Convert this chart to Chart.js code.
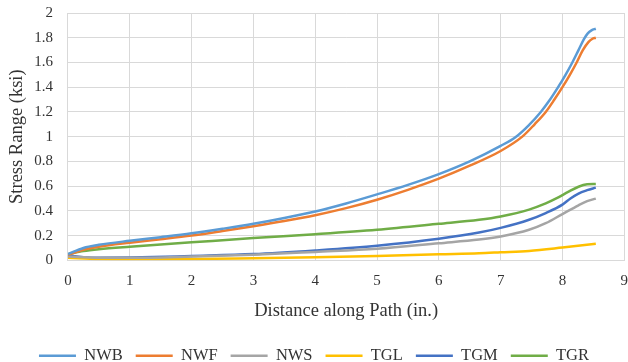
<!DOCTYPE html>
<html>
<head>
<meta charset="utf-8">
<script src="https://cdn.jsdelivr.net/npm/chart.js@4/dist/chart.umd.min.js"></script>
<style>
  html, body { margin: 0; padding: 0; background: #fff; overflow: hidden; }
  #wrap { position: relative; width: 628px; height: 362px; }
</style>
</head>
<body>
<div id="wrap"><canvas id="stressChart"></canvas></div>
<script>
// distance along path (in.) and stress range (ksi)
const xNWB = [0, 0.25, 0.5, 1, 1.5, 2, 2.5, 3, 3.5, 4, 4.5, 5, 5.5, 6, 6.5, 7, 7.25, 7.45, 7.65, 7.8, 7.93, 8.05, 8.16, 8.26, 8.35, 8.41, 8.47, 8.54];
const NWB  = [0.05, 0.10, 0.125, 0.158, 0.187, 0.218, 0.255, 0.295, 0.342, 0.395, 0.46, 0.533, 0.61, 0.697, 0.80, 0.925, 1.0, 1.09, 1.2, 1.3, 1.4, 1.5, 1.6, 1.7, 1.79, 1.835, 1.86, 1.873];

const xNWF = [0, 0.25, 0.5, 1, 1.5, 2, 2.5, 3, 3.5, 4, 4.5, 5, 5.5, 6, 6.5, 7, 7.35, 7.55, 7.73, 7.87, 8.0, 8.12, 8.23, 8.33, 8.42, 8.48, 8.54];
const NWF  = [0.045, 0.085, 0.11, 0.142, 0.17, 0.20, 0.237, 0.276, 0.318, 0.365, 0.422, 0.49, 0.57, 0.66, 0.765, 0.884, 1.0, 1.1, 1.2, 1.3, 1.4, 1.5, 1.6, 1.7, 1.765, 1.79, 1.80];

const xNWS = [0, 0.5, 1, 2, 3, 4, 5, 6, 6.65, 7, 7.46, 7.73, 8, 8.26, 8.4, 8.54];
const NWS  = [0.03, 0.02, 0.02, 0.03, 0.045, 0.068, 0.093, 0.138, 0.168, 0.193, 0.247, 0.30, 0.374, 0.445, 0.478, 0.499];

const xTGL = [0, 0.5, 1, 2, 3, 4, 5, 6, 6.65, 7, 7.46, 8, 8.54];
const TGL  = [0.02, 0.01, 0.008, 0.01, 0.017, 0.025, 0.035, 0.049, 0.057, 0.065, 0.076, 0.103, 0.133];

const xTGM = [0, 0.25, 0.5, 1, 2, 3, 4, 5, 6, 6.65, 7, 7.46, 7.73, 8, 8.13, 8.26, 8.4, 8.54];
const TGM  = [0.04, 0.025, 0.02, 0.022, 0.035, 0.05, 0.08, 0.118, 0.174, 0.224, 0.262, 0.328, 0.382, 0.45, 0.50, 0.54, 0.567, 0.588];

const xTGR = [0, 0.25, 0.5, 1, 2, 3, 4, 5, 6, 6.65, 7, 7.46, 7.73, 7.9, 8.1, 8.26, 8.4, 8.54];
const TGR  = [0.05, 0.075, 0.09, 0.11, 0.145, 0.18, 0.211, 0.247, 0.295, 0.328, 0.355, 0.41, 0.46, 0.50, 0.555, 0.595, 0.615, 0.618];

const xTicks = [0, 1, 2, 3, 4, 5, 6, 7, 8, 9];
const yTicks = [0, 0.2, 0.4, 0.6, 0.8, 1, 1.2, 1.4, 1.6, 1.8, 2];

const series = [
  { label: "NWB", xs: xNWB, ys: NWB, color: "#5B9BD5" },
  { label: "NWF", xs: xNWF, ys: NWF, color: "#ED7D31" },
  { label: "NWS", xs: xNWS, ys: NWS, color: "#A5A5A5" },
  { label: "TGL", xs: xTGL, ys: TGL, color: "#FFC000" },
  { label: "TGM", xs: xTGM, ys: TGM, color: "#4472C4" },
  { label: "TGR", xs: xTGR, ys: TGR, color: "#70AD47" }
];

const FONT = "'Liberation Serif', 'Times New Roman', serif";
const TEXT = "#333333";

new Chart(document.getElementById("stressChart"), {
  type: "scatter",
  data: {
    datasets: series.map((s) => ({
      label: s.label,
      data: s.xs.map((x, i) => ({ x: x, y: s.ys[i] })),
      showLine: true,
      borderColor: s.color,
      backgroundColor: s.color,
      borderWidth: 2.5,
      pointRadius: 0,
      cubicInterpolationMode: "monotone"
    }))
  },
  options: {
    responsive: true,
    maintainAspectRatio: false,
    animation: false,
    layout: { padding: { left: 0, top: 1, right: 0, bottom: -12 } },
    plugins: {
      tooltip: { enabled: false },
      legend: {
        position: "bottom",
        labels: {
          usePointStyle: true,
          pointStyle: "line",
          pointStyleWidth: 37,
          boxHeight: 2,
          padding: 13,
          color: TEXT,
          font: { family: FONT, size: 16.5 }
        }
      }
    },
    scales: {
      x: {
        type: "linear",
        min: 0,
        max: 9,
        afterBuildTicks: (axis) => { axis.ticks = xTicks.map((v) => ({ value: v })); },
        // invisible tick marks keep the labels away from the axis
        grid: { color: "#d9d9d9", lineWidth: 1, drawTicks: true, tickLength: 12, tickColor: "rgba(0,0,0,0)" },
        border: { color: "#d9d9d9" },
        ticks: {
          padding: 0,
          color: TEXT,
          font: { family: FONT, size: 15 },
          maxRotation: 0,
          callback: (v) => String(v)
        },
        title: {
          display: true,
          text: "Distance along Path (in.)",
          color: TEXT,
          font: { family: FONT, size: 18.5 },
          padding: { top: 10, bottom: 12 }
        }
      },
      y: {
        type: "linear",
        min: 0,
        max: 2,
        afterBuildTicks: (axis) => { axis.ticks = yTicks.map((v) => ({ value: v })); },
        grid: { color: "#d9d9d9", lineWidth: 1, drawTicks: true, tickLength: 11, tickColor: "rgba(0,0,0,0)" },
        border: { color: "#d9d9d9" },
        ticks: {
          padding: 4,
          color: TEXT,
          font: { family: FONT, size: 15 },
          callback: (v) => String(v)
        },
        title: {
          display: true,
          text: "Stress Range (ksi)",
          color: TEXT,
          font: { family: FONT, size: 18.5 },
          padding: { top: 6, bottom: 2 }
        }
      }
    }
  }
});
</script>
</body>
</html>
